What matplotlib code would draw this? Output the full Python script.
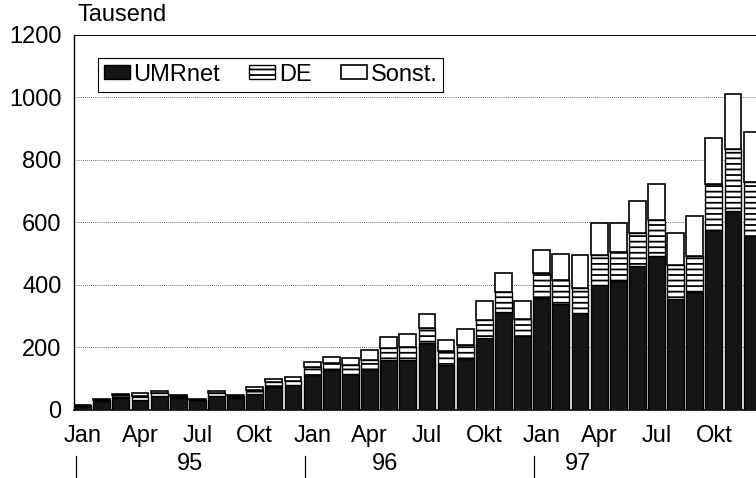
import numpy as np
import matplotlib
matplotlib.use('Agg')
import matplotlib.pyplot as plt
from matplotlib.transforms import blended_transform_factory
from matplotlib.lines import Line2D

plt.rcParams['font.family'] = ['Liberation Sans', 'DejaVu Sans']
plt.rcParams['hatch.color'] = 'black'
plt.rcParams['hatch.linewidth'] = 1.3

# monthly values Jan 95 .. Dec 97, in Tausend
umrnet = [12, 28, 38, 32, 42, 38, 30, 42, 38, 50, 73, 78,
          110, 127, 113, 131, 159, 159, 213, 141, 162, 228, 311, 234,
          358, 339, 309, 400, 411, 461, 493, 354, 375, 576, 637, 555]
de = [3, 3, 8, 12, 10, 6, 2, 11, 5, 13, 14, 14,
      25, 22, 31, 29, 38, 42, 48, 46, 46, 58, 66, 55,
      79, 75, 80, 94, 93, 104, 115, 108, 118, 146, 198, 175]
sonst = [1, 3, 4, 9, 6, 4, 2, 6, 4, 10, 12, 13,
         18, 18, 20, 30, 35, 41, 44, 37, 50, 61, 61, 59,
         75, 85, 107, 105, 95, 102, 113, 105, 126, 147, 175, 158]
month_labels = ['Jan', 'Apr', 'Jul', 'Okt']
years = ['95', '96', '97']
series_names = ['UMRnet', 'DE', 'Sonst.']

n = len(umrnet)
x = np.arange(n)
a = np.array(umrnet)
b = np.array(de)
c = np.array(sonst)

fs = 17

fig = plt.figure(figsize=(7.56, 4.78), dpi=100)
ax = fig.add_axes([0.0979, 0.1433, 0.9223, 0.7835])

w = 0.88
ax.bar(x, a, w, color='#151515', edgecolor='black', linewidth=1.0, label=series_names[0], zorder=3)
ax.bar(x, b, w, bottom=a, color='white', edgecolor='black', hatch='---', linewidth=1.0, label=series_names[1], zorder=3)
ax.bar(x, c, w, bottom=a + b, color='white', edgecolor='black', linewidth=1.2, label=series_names[2], zorder=3)

ax.set_xlim(-0.45, 36.0)
ax.set_ylim(0, 1200)
ax.set_yticks(range(0, 1201, 200))
ax.set_xticks(range(0, n, 3))
ax.set_xticklabels(month_labels * 3)
ax.tick_params(axis='both', length=0, labelsize=fs)
ax.tick_params(axis='x', pad=11)
ax.tick_params(axis='y', pad=9)

ax.yaxis.grid(True, linestyle=(0, (1, 1.5)), color='#333333', linewidth=0.6)
ax.set_axisbelow(True)
ax.spines['right'].set_visible(False)
ax.spines['top'].set_linewidth(0.7)
ax.spines['top'].set_linestyle((0, (2, 1)))
ax.spines['left'].set_linewidth(1.0)
ax.spines['bottom'].set_linewidth(1.2)

# year row below month labels
trans = blended_transform_factory(ax.transData, fig.transFigure)
year_pos = [5.6, 15.8, 25.9]
for yp, yr in zip(year_pos, years):
    ax.text(yp, 1 - 464 / 478, yr, transform=trans, ha='center', va='center', fontsize=fs)
for sx in [-0.35, 11.6, 23.6]:
    fig.add_artist(Line2D([sx, sx], [0, 1 - 456 / 478], transform=trans, color='black', linewidth=0.9))

fig.text(78 / 756, 1 - 15 / 478, 'Tausend', ha='left', va='center', fontsize=fs)

leg = ax.legend(loc='upper left', bbox_to_anchor=(0.034, 0.939), borderaxespad=0, ncol=3,
                fontsize=fs, frameon=True, fancybox=False, framealpha=1, edgecolor='black',
                handlelength=1.1, handleheight=0.55, handletextpad=0.15, columnspacing=1.25,
                borderpad=0.25)
leg.get_frame().set_linewidth(0.8)

fig.savefig('out.png', dpi=100)
